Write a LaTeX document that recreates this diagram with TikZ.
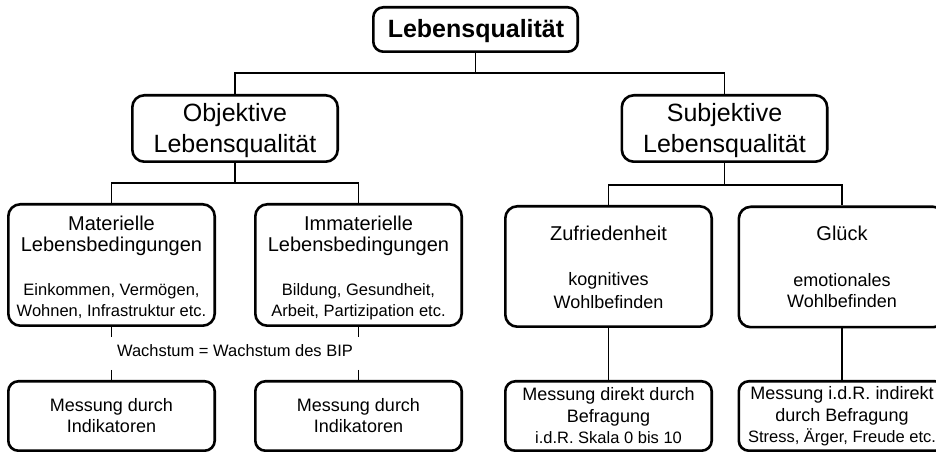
\documentclass[tikz,border=0pt]{standalone}
\usepackage{fontspec}
\setmainfont{Liberation Sans}
\usepackage{tikz}

\tikzset{
  boite/.style={draw, line width=1.3pt, inner sep=0pt, rounded corners=6pt,
    minimum width=103.2pt},
  lien/.style={line width=0.9pt},
  txt/.style={anchor=base, inner sep=0pt, align=center},
}

\begin{document}
\begin{tikzpicture}[x=0.5pt, y=-0.5pt]
        % Cadre de l'image
        \useasboundingbox (0,0) rectangle (936,453);

        % Les boites
        \node[boite, rounded corners=5pt, minimum width=102.2pt, minimum height=22.2pt] (lq) at (475.5,29.5) {};
        \node[boite, minimum width=102.7pt, minimum height=33.2pt] (obj) at (235,128.5) {};
        \node[boite, minimum width=102.7pt, minimum height=33.2pt] (subj) at (724.5,128.5) {};
        \node[boite, minimum height=60.7pt] (mat) at (111.5,265) {};
        \node[boite, minimum height=60.7pt] (immat) at (358.5,265) {};
        \node[boite, minimum height=60.2pt] (zuf) at (608.5,266.5) {};
        \node[boite, minimum height=60.2pt] (glueck) at (842,267) {};
        \node[boite, rounded corners=5pt, minimum height=34.7pt] (mess1) at (111.5,416) {};
        \node[boite, rounded corners=5pt, minimum height=34.7pt] (mess2) at (358.5,416) {};
        \node[boite, rounded corners=5pt, minimum height=34.7pt] (mess3) at (608.5,416) {};
        \node[boite, rounded corners=5pt, minimum height=34.7pt] (mess4) at (842,416) {};

        % Les textes (base = derniere ligne)
        \node[txt, font=\fontsize{12.5}{15}\selectfont\bfseries] (lq-t) at (476,37.7) {Lebensqualität};
        \node[txt, font=\fontsize{12.5}{15.75}\selectfont] (obj-t) at (235,153) {Objektive\\Lebensqualität};
        \node[txt, font=\fontsize{12.5}{15.75}\selectfont] (subj-t) at (724.5,153) {Subjektive\\Lebensqualität};
        \node[txt, font=\fontsize{10}{10.5}\selectfont] (mat-t) at (111.5,252) {Materielle\\Lebensbedingungen};
        \node[txt, font=\fontsize{8.25}{10.35}\selectfont] (mat-u) at (111.5,316.7) {Einkommen, Vermögen,\\Wohnen, Infrastruktur etc.};
        \node[txt, font=\fontsize{10}{10.5}\selectfont] (immat-t) at (358.5,252) {Immaterielle\\Lebensbedingungen};
        \node[txt, font=\fontsize{8.25}{10.35}\selectfont] (immat-u) at (358.5,316.7) {Bildung, Gesundheit,\\Arbeit, Partizipation etc.};
        \node[txt, font=\fontsize{10}{12}\selectfont] (zuf-t) at (608.5,241) {Zufriedenheit};
        \node[txt, font=\fontsize{9}{11.3}\selectfont] (zuf-u) at (608.5,308.3) {kognitives\\Wohlbefinden};
        \node[txt, font=\fontsize{10}{12}\selectfont] (glueck-t) at (842,241) {Glück};
        \node[txt, font=\fontsize{9}{10.6}\selectfont] (glueck-u) at (842,307.7) {emotionales\\Wohlbefinden};
        \node[txt, font=\fontsize{9}{10.75}\selectfont] (mess1-t) at (111.5,433) {Messung durch\\Indikatoren};
        \node[txt, font=\fontsize{9}{10.75}\selectfont] (mess2-t) at (358.5,433) {Messung durch\\Indikatoren};
        \node[txt, font=\fontsize{9}{11}\selectfont] (mess3-t) at (608.5,422.7) {Messung direkt durch\\Befragung};
        \node[txt, font=\fontsize{8.25}{10}\selectfont] (mess3-u) at (608.5,443.3) {i.d.R. Skala 0 bis 10};
        \node[txt, font=\fontsize{9}{11}\selectfont] (mess4-t) at (842,421.7) {Messung i.d.R. indirekt\\durch Befragung};
        \node[txt, font=\fontsize{8.25}{10}\selectfont] (mess4-u) at (842,442.3) {Stress, Ärger, Freude etc.};
        \node[txt, font=\fontsize{8.25}{10}\selectfont] (wachs) at (235,357) {Wachstum = Wachstum des BIP};

        % Points de branchement
        \coordinate (b1) at (475.5,73);
        \coordinate (b2) at (235,183);
        \coordinate (b3) at (724.5,185);
        \coordinate (g1) at (111.5,337);
        \coordinate (g2) at (111.5,370);
        \coordinate (g3) at (358.5,337);
        \coordinate (g4) at (358.5,370);

        % Les liens
        \draw[lien] (lq.south) -- (b1) -| (obj.north);
        \draw[lien] (b1) -| (subj.north);
        \draw[lien] (obj.south) -- (b2) -| (mat.north);
        \draw[lien] (b2) -| (immat.north);
        \draw[lien] (subj.south) -- (b3) -| (zuf.north);
        \draw[lien] (b3) -| (glueck.north);
        \draw[lien] (mat.south) -- (g1);
        \draw[lien] (g2) -- (mess1.north);
        \draw[lien] (immat.south) -- (g3);
        \draw[lien] (g4) -- (mess2.north);
        \draw[lien] (zuf.south) -- (mess3.north);
        \draw[lien] (glueck.south) -- (mess4.north);
    \end{tikzpicture}
\end{document}
